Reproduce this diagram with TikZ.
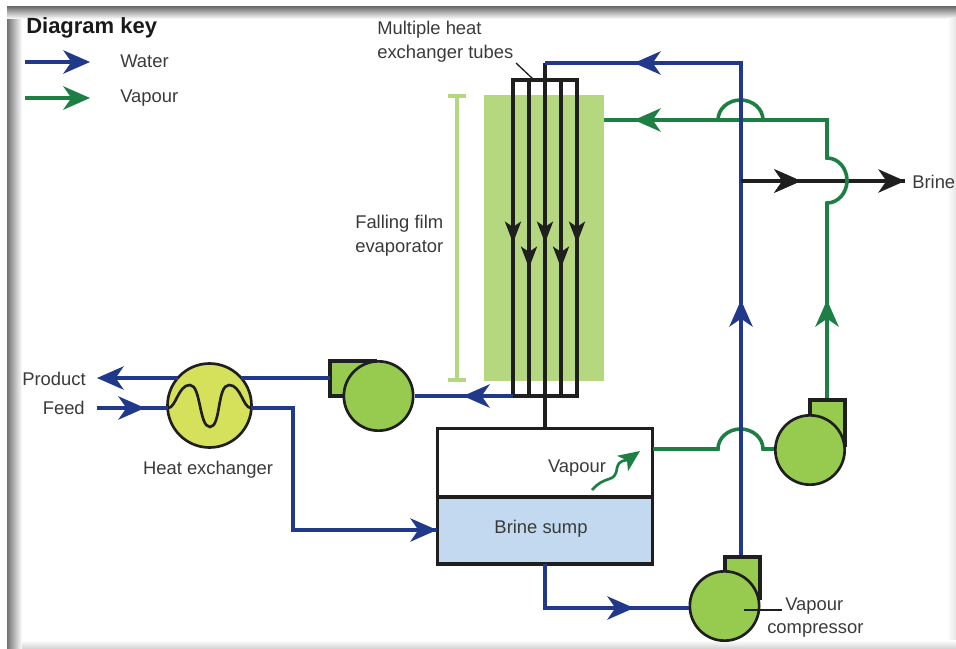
\documentclass[tikz,border=0pt]{standalone}
\usepackage{fontspec}
\setmainfont{Liberation Sans}
\usetikzlibrary{arrows.meta,shadings}
\definecolor{waterblue}{HTML}{21398A}
\definecolor{vapourgreen}{HTML}{1E7F45}
\definecolor{filmgreen}{HTML}{B4D780}
\definecolor{pumpgreen}{HTML}{96CB4F}
\definecolor{hexyellow}{HTML}{D5E05B}
\definecolor{sumpblue}{HTML}{C3D9EF}
\definecolor{labelgrey}{HTML}{3A3A3A}
\tikzset{
lbl/.style={font=\fontsize{13.8}{18}\selectfont, text=labelgrey, inner sep=0pt},
water/.style={draw=waterblue, line width=2.5pt},
vapour/.style={draw=vapourgreen, line width=2.7pt},
brine/.style={draw=black!88, line width=2.5pt},
bighead/.style={-{Stealth[length=20pt,width=17.5pt,inset=6pt]}},
tubehead/.style={-{Stealth[length=16pt,width=12pt,inset=4pt]}},
pump/.style={circle, draw=black!88, line width=2pt, fill=pumpgreen, minimum size=52pt, inner sep=0pt},
volute/.style={draw=black!88, line width=2.5pt, fill=pumpgreen},
}
\begin{document}
\begin{tikzpicture}[x=.75pt,y=-.75pt]
\useasboundingbox (0,0) rectangle (956,649);
\shade[left color=black!55, right color=white] (7,7) rectangle (22,649);
\shade[top color=black!55, bottom color=white] (7,7) rectangle (956,19);
\shade[left color=white, right color=black!10] (947,19) rectangle (956,649);
\shade[top color=white, bottom color=black!18] (22,640) rectangle (956,649);

\node[font=\fontsize{16.5}{20}\selectfont\bfseries, text=black!90, inner sep=0pt, anchor=west] (keytitle) at (26,28){Diagram key};
\coordinate (k0) at (25,62);
\coordinate (k1) at (90,62);
\coordinate (k2) at (25,98);
\coordinate (k3) at (90,98);
\draw[water, bighead](k0) -- (k1);
\draw[vapour, bighead](k2) -- (k3);
\node[lbl, anchor=west] (keywater) at (120,61.5){Water};
\node[lbl, anchor=west] (keyvapour) at (120,98){Vapour};

\node[lbl, anchor=west, align=left] (tubeslbl) at (377,42){Multiple heat\\exchanger tubes};
\node[lbl, anchor=west, align=left] (filmlbl) at (355,236){Falling film\\evaporator};
\node[lbl] (hexlbl) at (208,470){Heat exchanger};
\node[lbl, anchor=east] (productlbl) at (86,379){Product};
\node[lbl, anchor=east] (feedlbl) at (85,408){Feed};
\node[lbl, anchor=west] (brinelbl) at (912,182){Brine};
\node[lbl, anchor=west] (complbl0) at (785,606){Vapour};
\node[lbl, anchor=west] (complbl1) at (767,630){compressor};

\node[fill=filmgreen, minimum width=90pt, minimum height=214.5pt, inner sep=0pt] (film) at (544,238){};
\coordinate (br0) at (457,96);
\coordinate (br1) at (457,380);
\coordinate (br2) at (448,96);
\coordinate (br3) at (466,96);
\coordinate (br4) at (448,380);
\coordinate (br5) at (466,380);
\draw[filmgreen, line width=2.5pt](br0) -- (br1);
\draw[filmgreen, line width=2.5pt](br2) -- (br3);
\draw[filmgreen, line width=2.5pt](br4) -- (br5);

\coordinate (tt0) at (513,80);
\coordinate (tt1) at (529,80);
\coordinate (tt2) at (545,80);
\coordinate (tt3) at (561,80);
\coordinate (tt4) at (577,80);
\coordinate (tb0) at (513,396);
\coordinate (tb1) at (529,396);
\coordinate (tb2) at (545,396);
\coordinate (tb3) at (561,396);
\coordinate (tb4) at (577,396);
\coordinate (ta0) at (513,243);
\coordinate (ta1) at (529,268);
\coordinate (ta2) at (545,243);
\coordinate (ta3) at (561,268);
\coordinate (ta4) at (577,243);
\coordinate (inlet) at (545,63);
\draw[brine](tt0) -- (tt4) -- (tb4) -- (tb0) -- cycle;
\draw[brine](tt1) -- (tb1);
\draw[brine](inlet) -- (tb2);
\draw[brine](tt3) -- (tb3);
\draw[brine, tubehead](tt0) -- (ta0);
\draw[brine, tubehead](tt1) -- (ta1);
\draw[brine, tubehead](tt2) -- (ta2);
\draw[brine, tubehead](tt3) -- (ta3);
\draw[brine, tubehead](tt4) -- (ta4);
\coordinate (leader0) at (516,63);
\coordinate (leader1) at (534,80);
\draw[black!88, line width=1pt](leader0) -- (leader1);

\node[draw=black!88, line width=2.5pt, fill=white, minimum width=161pt, minimum height=51pt, inner sep=0pt] (vapourbox) at (545,462.5){};
\node[draw=black!88, line width=2.5pt, fill=sumpblue, minimum width=161pt, minimum height=50pt, inner sep=0pt] (sump) at (545,530.5){};
\node[lbl] (sumplbl) at (541,529){Brine sump};
\node[lbl] (vapourlbl) at (577,468){Vapour};
\coordinate (sq0) at (592,490);
\coordinate (sq1) at (640,451);
\draw[vapourgreen, line width=2pt, -{Stealth[length=16pt,width=14pt,inset=4pt]}](sq0) .. controls (606,474) and (615,484) .. (617,468) .. controls (619,459) and (626,461) .. (sq1);
\coordinate (stem) at (545,428);
\draw[brine](tb2) -- (stem);

\coordinate (w0) at (741,63);
\coordinate (w1) at (634,63);
\coordinate (w2) at (741,300);
\coordinate (w3) at (741,557);
\coordinate (b0) at (741,181);
\coordinate (b1) at (801,181);
\coordinate (b2) at (905,181);
\draw[water, bighead](w0) -- (w1);
\draw[water](inlet) -- (w0) -- (w3);
\draw[water, bighead](w3) -- (w2);
\draw[brine](b0) -- (b2);
\draw[brine, bighead](b0) -- (b1);
\draw[brine, bighead](b1) -- (b2);

\coordinate (v0) at (604,120);
\coordinate (v1) at (634,120);
\coordinate (v2) at (718,120);
\coordinate (v3) at (763,120);
\coordinate (v4) at (827,120);
\coordinate (v5) at (827,158);
\coordinate (v6) at (827,203);
\coordinate (v7) at (827,300);
\coordinate (v8) at (827,400);
\coordinate (v9) at (653,449);
\coordinate (v10) at (718,449);
\coordinate (v11) at (763,449);
\coordinate (v12) at (775,449);
\draw[vapour, bighead](v3) -- (v1);
\draw[vapour](v0) -- (v2) arc[start angle=180, end angle=360, x radius=22.5, y radius=20] -- (v3) -- (v4) -- (v5) arc[start angle=-90, end angle=90, x radius=20, y radius=22.5] -- (v6) -- (v8);
\draw[vapour, bighead](v8) -- (v7);
\draw[vapour](v9) -- (v10) arc[start angle=180, end angle=360, x radius=22.5, y radius=20] -- (v11) -- (v12);
\draw[water](w0) -- (w3);
\draw[brine, bighead](b0) -- (b1);

\draw[volute] (810,400) rectangle (845,445);
\node[pump] (pump2) at (810,450){};
\draw[volute] (725,557) rectangle (760,598);
\node[pump] (pump3) at (724.5,606){};
\draw[volute] (330,361) rectangle (375,396);
\node[pump] (pump1) at (378.5,396){};
\coordinate (lead0) at (744,610);
\coordinate (lead1) at (782,610);
\draw[black!88, line width=1pt](lead0) -- (lead1);

\node[circle, draw=black!88, line width=2pt, fill=hexyellow, minimum size=63pt, inner sep=0pt] (hex) at (209.5,405.5){};
\coordinate (wave0) at (168,408);
\coordinate (wave1) at (251,408);
\draw[black!88, line width=2pt](wave0) .. controls (176,408) and (178,385) .. (190,385) .. controls (201,385) and (199,427) .. (210,427) .. controls (221,427) and (217,385) .. (229,385) .. controls (241,385) and (243,408) .. (wave1);

\coordinate (p0) at (97,378);
\coordinate (p1) at (178,378);
\coordinate (p2) at (241,378);
\coordinate (p3) at (330,378);
\coordinate (f0) at (97,408);
\coordinate (f1) at (145,408);
\coordinate (s0) at (293,408);
\coordinate (s1) at (293,530);
\coordinate (s2) at (437,530);
\coordinate (u0) at (415,396);
\coordinate (u1) at (463,396);
\coordinate (m0) at (545,564);
\coordinate (m1) at (545,608);
\coordinate (m2) at (634,608);
\coordinate (m3) at (689,608);
\draw[water, bighead](p1) -- (p0);
\draw[water](p2) -- (p3);
\draw[water](f0) -- (wave0);
\draw[water, bighead](f0) -- (f1);
\draw[water](wave1) -- (s0) -- (s1) -- (s2);
\draw[water, bighead](s1) -- (s2);
\draw[water](u0) -- (tb0);
\draw[water, bighead](tb0) -- (u1);
\draw[water](m0) -- (m1) -- (m3);
\draw[water, bighead](m1) -- (m2);
\end{tikzpicture}
\end{document}
